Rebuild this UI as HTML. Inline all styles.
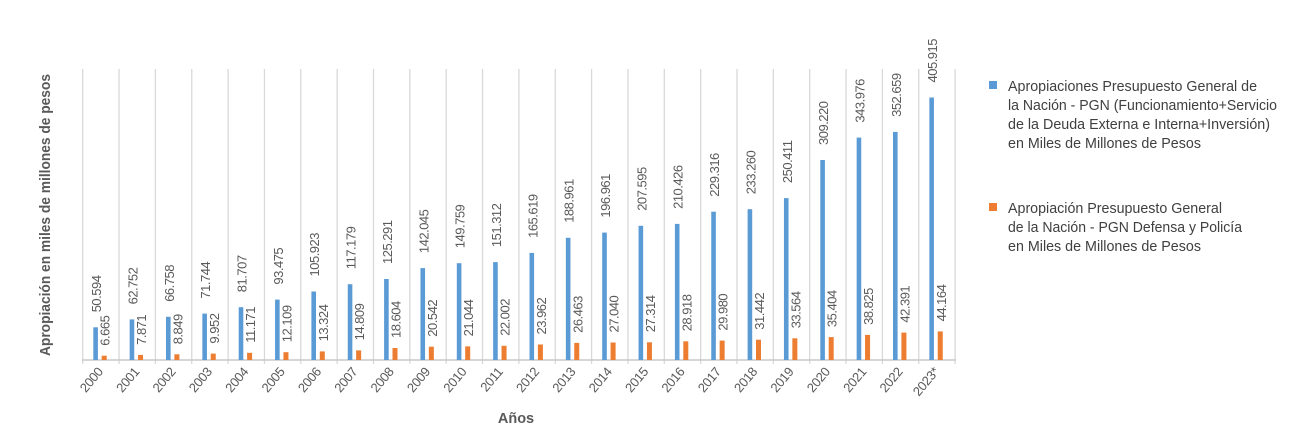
<!DOCTYPE html>
<html><head><meta charset="utf-8"><style>
html,body{margin:0;padding:0;background:#fff;}
svg{display:block;font-family:"Liberation Sans Narrow","Liberation Sans",sans-serif;}
.v{font-size:13px;fill:#595959;letter-spacing:-0.5px;}
.y{font-size:13px;fill:#595959;letter-spacing:-0.3px;}
.lg{font-size:14.5px;fill:#404040;}
</style></head><body>
<svg width="1300" height="445" viewBox="0 0 1300 445">
<g stroke="#d9d9d9" stroke-width="1.3">
<line x1="82.7" y1="69" x2="82.7" y2="364"/><line x1="119.05" y1="69" x2="119.05" y2="364"/><line x1="155.4" y1="69" x2="155.4" y2="364"/><line x1="191.75" y1="69" x2="191.75" y2="364"/><line x1="228.1" y1="69" x2="228.1" y2="364"/><line x1="264.45" y1="69" x2="264.45" y2="364"/><line x1="300.8" y1="69" x2="300.8" y2="364"/><line x1="337.15" y1="69" x2="337.15" y2="364"/><line x1="373.5" y1="69" x2="373.5" y2="364"/><line x1="409.85" y1="69" x2="409.85" y2="364"/><line x1="446.2" y1="69" x2="446.2" y2="364"/><line x1="482.55" y1="69" x2="482.55" y2="364"/><line x1="518.9" y1="69" x2="518.9" y2="364"/><line x1="555.25" y1="69" x2="555.25" y2="364"/><line x1="591.6" y1="69" x2="591.6" y2="364"/><line x1="627.95" y1="69" x2="627.95" y2="364"/><line x1="664.3" y1="69" x2="664.3" y2="364"/><line x1="700.65" y1="69" x2="700.65" y2="364"/><line x1="737" y1="69" x2="737" y2="364"/><line x1="773.35" y1="69" x2="773.35" y2="364"/><line x1="809.7" y1="69" x2="809.7" y2="364"/><line x1="846.05" y1="69" x2="846.05" y2="364"/><line x1="882.4" y1="69" x2="882.4" y2="364"/><line x1="918.75" y1="69" x2="918.75" y2="364"/><line x1="955.1" y1="69" x2="955.1" y2="364"/>
</g>
<line x1="82" y1="360" x2="956" y2="360" stroke="#c8c8c8" stroke-width="1.6"/>

<g transform="translate(82.7,0)"><rect x="10.6" y="327.3" width="4.6" height="32.7" fill="#5b9bd5"/><rect x="19" y="355.7" width="5" height="4.3" fill="#ed7d31"/><text class="v" transform="translate(18.4,312.3) rotate(-90)">50.594</text><text class="v" transform="translate(27,345.7) rotate(-90)">6.665</text><text class="y" text-anchor="end" transform="translate(21,372) rotate(-50)">2000</text></g>
<g transform="translate(119.05,0)"><rect x="10.6" y="319.4" width="4.6" height="40.6" fill="#5b9bd5"/><rect x="19" y="354.9" width="5" height="5.1" fill="#ed7d31"/><text class="v" transform="translate(18.4,304.4) rotate(-90)">62.752</text><text class="v" transform="translate(27,344.9) rotate(-90)">7.871</text><text class="y" text-anchor="end" transform="translate(21,372) rotate(-50)">2001</text></g>
<g transform="translate(155.4,0)"><rect x="10.6" y="316.8" width="4.6" height="43.2" fill="#5b9bd5"/><rect x="19" y="354.3" width="5" height="5.7" fill="#ed7d31"/><text class="v" transform="translate(18.4,301.8) rotate(-90)">66.758</text><text class="v" transform="translate(27,344.3) rotate(-90)">8.849</text><text class="y" text-anchor="end" transform="translate(21,372) rotate(-50)">2002</text></g>
<g transform="translate(191.75,0)"><rect x="10.6" y="313.6" width="4.6" height="46.4" fill="#5b9bd5"/><rect x="19" y="353.6" width="5" height="6.4" fill="#ed7d31"/><text class="v" transform="translate(18.4,298.6) rotate(-90)">71.744</text><text class="v" transform="translate(27,343.6) rotate(-90)">9.952</text><text class="y" text-anchor="end" transform="translate(21,372) rotate(-50)">2003</text></g>
<g transform="translate(228.1,0)"><rect x="10.6" y="307.2" width="4.6" height="52.8" fill="#5b9bd5"/><rect x="19" y="352.8" width="5" height="7.2" fill="#ed7d31"/><text class="v" transform="translate(18.4,292.2) rotate(-90)">81.707</text><text class="v" transform="translate(27,342.8) rotate(-90)">11.171</text><text class="y" text-anchor="end" transform="translate(21,372) rotate(-50)">2004</text></g>
<g transform="translate(264.45,0)"><rect x="10.6" y="299.6" width="4.6" height="60.4" fill="#5b9bd5"/><rect x="19" y="352.2" width="5" height="7.8" fill="#ed7d31"/><text class="v" transform="translate(18.4,284.6) rotate(-90)">93.475</text><text class="v" transform="translate(27,342.2) rotate(-90)">12.109</text><text class="y" text-anchor="end" transform="translate(21,372) rotate(-50)">2005</text></g>
<g transform="translate(300.8,0)"><rect x="10.6" y="291.5" width="4.6" height="68.5" fill="#5b9bd5"/><rect x="19" y="351.4" width="5" height="8.6" fill="#ed7d31"/><text class="v" transform="translate(18.4,276.5) rotate(-90)">105.923</text><text class="v" transform="translate(27,341.4) rotate(-90)">13.324</text><text class="y" text-anchor="end" transform="translate(21,372) rotate(-50)">2006</text></g>
<g transform="translate(337.15,0)"><rect x="10.6" y="284.2" width="4.6" height="75.8" fill="#5b9bd5"/><rect x="19" y="350.4" width="5" height="9.6" fill="#ed7d31"/><text class="v" transform="translate(18.4,269.2) rotate(-90)">117.179</text><text class="v" transform="translate(27,340.4) rotate(-90)">14.809</text><text class="y" text-anchor="end" transform="translate(21,372) rotate(-50)">2007</text></g>
<g transform="translate(373.5,0)"><rect x="10.6" y="279" width="4.6" height="81" fill="#5b9bd5"/><rect x="19" y="348" width="5" height="12" fill="#ed7d31"/><text class="v" transform="translate(18.4,264) rotate(-90)">125.291</text><text class="v" transform="translate(27,338) rotate(-90)">18.604</text><text class="y" text-anchor="end" transform="translate(21,372) rotate(-50)">2008</text></g>
<g transform="translate(409.85,0)"><rect x="10.6" y="268.1" width="4.6" height="91.9" fill="#5b9bd5"/><rect x="19" y="346.7" width="5" height="13.3" fill="#ed7d31"/><text class="v" transform="translate(18.4,253.1) rotate(-90)">142.045</text><text class="v" transform="translate(27,336.7) rotate(-90)">20.542</text><text class="y" text-anchor="end" transform="translate(21,372) rotate(-50)">2009</text></g>
<g transform="translate(446.2,0)"><rect x="10.6" y="263.2" width="4.6" height="96.8" fill="#5b9bd5"/><rect x="19" y="346.4" width="5" height="13.6" fill="#ed7d31"/><text class="v" transform="translate(18.4,248.2) rotate(-90)">149.759</text><text class="v" transform="translate(27,336.4) rotate(-90)">21.044</text><text class="y" text-anchor="end" transform="translate(21,372) rotate(-50)">2010</text></g>
<g transform="translate(482.55,0)"><rect x="10.6" y="262.1" width="4.6" height="97.9" fill="#5b9bd5"/><rect x="19" y="345.8" width="5" height="14.2" fill="#ed7d31"/><text class="v" transform="translate(18.4,247.1) rotate(-90)">151.312</text><text class="v" transform="translate(27,335.8) rotate(-90)">22.002</text><text class="y" text-anchor="end" transform="translate(21,372) rotate(-50)">2011</text></g>
<g transform="translate(518.9,0)"><rect x="10.6" y="252.9" width="4.6" height="107.1" fill="#5b9bd5"/><rect x="19" y="344.5" width="5" height="15.5" fill="#ed7d31"/><text class="v" transform="translate(18.4,237.9) rotate(-90)">165.619</text><text class="v" transform="translate(27,334.5) rotate(-90)">23.962</text><text class="y" text-anchor="end" transform="translate(21,372) rotate(-50)">2012</text></g>
<g transform="translate(555.25,0)"><rect x="10.6" y="237.8" width="4.6" height="122.2" fill="#5b9bd5"/><rect x="19" y="342.9" width="5" height="17.1" fill="#ed7d31"/><text class="v" transform="translate(18.4,222.8) rotate(-90)">188.961</text><text class="v" transform="translate(27,332.9) rotate(-90)">26.463</text><text class="y" text-anchor="end" transform="translate(21,372) rotate(-50)">2013</text></g>
<g transform="translate(591.6,0)"><rect x="10.6" y="232.6" width="4.6" height="127.4" fill="#5b9bd5"/><rect x="19" y="342.5" width="5" height="17.5" fill="#ed7d31"/><text class="v" transform="translate(18.4,217.6) rotate(-90)">196.961</text><text class="v" transform="translate(27,332.5) rotate(-90)">27.040</text><text class="y" text-anchor="end" transform="translate(21,372) rotate(-50)">2014</text></g>
<g transform="translate(627.95,0)"><rect x="10.6" y="225.8" width="4.6" height="134.2" fill="#5b9bd5"/><rect x="19" y="342.3" width="5" height="17.7" fill="#ed7d31"/><text class="v" transform="translate(18.4,210.8) rotate(-90)">207.595</text><text class="v" transform="translate(27,332.3) rotate(-90)">27.314</text><text class="y" text-anchor="end" transform="translate(21,372) rotate(-50)">2015</text></g>
<g transform="translate(664.3,0)"><rect x="10.6" y="223.9" width="4.6" height="136.1" fill="#5b9bd5"/><rect x="19" y="341.3" width="5" height="18.7" fill="#ed7d31"/><text class="v" transform="translate(18.4,208.9) rotate(-90)">210.426</text><text class="v" transform="translate(27,331.3) rotate(-90)">28.918</text><text class="y" text-anchor="end" transform="translate(21,372) rotate(-50)">2016</text></g>
<g transform="translate(700.65,0)"><rect x="10.6" y="211.7" width="4.6" height="148.3" fill="#5b9bd5"/><rect x="19" y="340.6" width="5" height="19.4" fill="#ed7d31"/><text class="v" transform="translate(18.4,196.7) rotate(-90)">229.316</text><text class="v" transform="translate(27,330.6) rotate(-90)">29.980</text><text class="y" text-anchor="end" transform="translate(21,372) rotate(-50)">2017</text></g>
<g transform="translate(737,0)"><rect x="10.6" y="209.2" width="4.6" height="150.8" fill="#5b9bd5"/><rect x="19" y="339.7" width="5" height="20.3" fill="#ed7d31"/><text class="v" transform="translate(18.4,194.2) rotate(-90)">233.260</text><text class="v" transform="translate(27,329.7) rotate(-90)">31.442</text><text class="y" text-anchor="end" transform="translate(21,372) rotate(-50)">2018</text></g>
<g transform="translate(773.35,0)"><rect x="10.6" y="198.1" width="4.6" height="161.9" fill="#5b9bd5"/><rect x="19" y="338.3" width="5" height="21.7" fill="#ed7d31"/><text class="v" transform="translate(18.4,183.1) rotate(-90)">250.411</text><text class="v" transform="translate(27,328.3) rotate(-90)">33.564</text><text class="y" text-anchor="end" transform="translate(21,372) rotate(-50)">2019</text></g>
<g transform="translate(809.7,0)"><rect x="10.6" y="160" width="4.6" height="200" fill="#5b9bd5"/><rect x="19" y="337.1" width="5" height="22.9" fill="#ed7d31"/><text class="v" transform="translate(18.4,145) rotate(-90)">309.220</text><text class="v" transform="translate(27,327.1) rotate(-90)">35.404</text><text class="y" text-anchor="end" transform="translate(21,372) rotate(-50)">2020</text></g>
<g transform="translate(846.05,0)"><rect x="10.6" y="137.6" width="4.6" height="222.4" fill="#5b9bd5"/><rect x="19" y="334.9" width="5" height="25.1" fill="#ed7d31"/><text class="v" transform="translate(18.4,122.6) rotate(-90)">343.976</text><text class="v" transform="translate(27,324.9) rotate(-90)">38.825</text><text class="y" text-anchor="end" transform="translate(21,372) rotate(-50)">2021</text></g>
<g transform="translate(882.4,0)"><rect x="10.6" y="131.9" width="4.6" height="228.1" fill="#5b9bd5"/><rect x="19" y="332.6" width="5" height="27.4" fill="#ed7d31"/><text class="v" transform="translate(18.4,116.9) rotate(-90)">352.659</text><text class="v" transform="translate(27,322.6) rotate(-90)">42.391</text><text class="y" text-anchor="end" transform="translate(21,372) rotate(-50)">2022</text></g>
<g transform="translate(918.75,0)"><rect x="10.6" y="97.5" width="4.6" height="262.5" fill="#5b9bd5"/><rect x="19" y="331.4" width="5" height="28.6" fill="#ed7d31"/><text class="v" transform="translate(18.4,82.5) rotate(-90)">405.915</text><text class="v" transform="translate(27,321.4) rotate(-90)">44.164</text><text class="y" text-anchor="end" transform="translate(21,372) rotate(-50)">2023*</text></g>

<text transform="translate(50,215) rotate(-90)" text-anchor="middle" font-size="14.5" font-weight="bold" fill="#595959" textLength="282" lengthAdjust="spacingAndGlyphs">Apropiación en miles de millones de pesos</text>
<text x="516" y="423" text-anchor="middle" font-size="14.5" font-weight="bold" fill="#595959">Años</text>

<rect x="989" y="81" width="8" height="8" fill="#5b9bd5"/>
<text class="lg" x="1008" y="91" textLength="249" lengthAdjust="spacingAndGlyphs">Apropiaciones Presupuesto General de</text>
<text class="lg" x="1008" y="110" textLength="269" lengthAdjust="spacingAndGlyphs">la Nación - PGN (Funcionamiento+Servicio</text>
<text class="lg" x="1008" y="129" textLength="262" lengthAdjust="spacingAndGlyphs">de la Deuda Externa e Interna+Inversión)</text>
<text class="lg" x="1008" y="148" textLength="193" lengthAdjust="spacingAndGlyphs">en Miles de Millones de Pesos</text>
<rect x="989" y="203" width="8" height="8" fill="#ed7d31"/>
<text class="lg" x="1008" y="213" textLength="214" lengthAdjust="spacingAndGlyphs">Apropiación Presupuesto General</text>
<text class="lg" x="1008" y="232" textLength="234" lengthAdjust="spacingAndGlyphs">de la Nación - PGN Defensa y Policía</text>
<text class="lg" x="1008" y="251" textLength="193" lengthAdjust="spacingAndGlyphs">en Miles de Millones de Pesos</text>
</svg>
</body></html>
